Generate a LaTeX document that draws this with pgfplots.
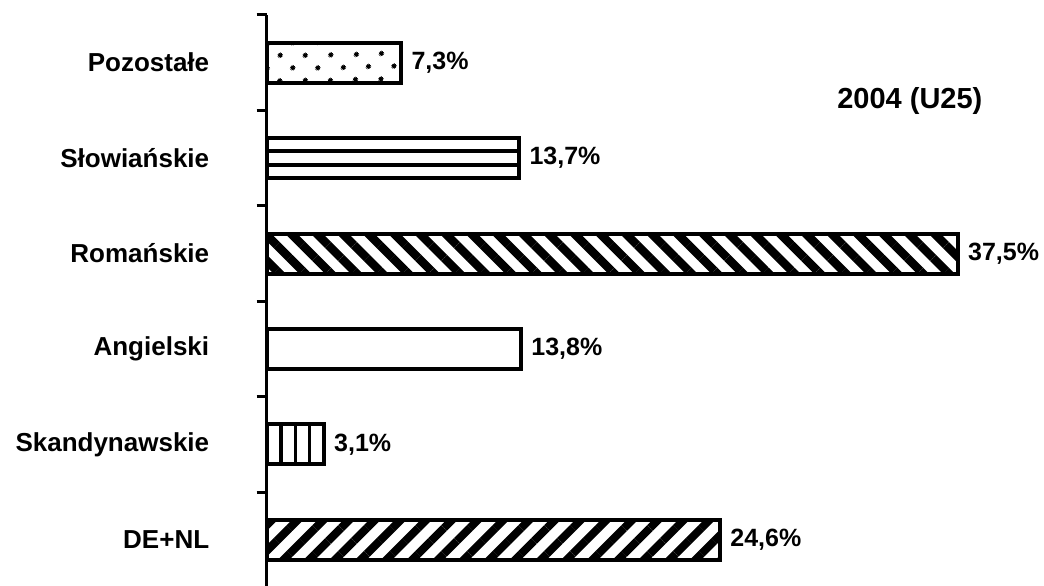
\documentclass[border=0pt]{standalone}
\usepackage{fontspec}
\setmainfont{Liberation Sans}
\usepackage{pgfplots}
\pgfplotsset{compat=1.18}
\usetikzlibrary{patterns.meta}
\begin{document}
\begin{tikzpicture}
\useasboundingbox (0,0) rectangle (1044pt,586pt);
\begin{axis}[
 at={(266.7pt,-1.5pt)}, anchor=south west,
 scale only axis, width=737.2pt, height=572.5pt,
 xmin=0, xmax=40, ymin=-0.5, ymax=5.5,
 axis x line=none, axis y line=left,
 y axis line style={-, line width=3pt},
 xbar, bar width=40pt, bar shift=0pt,
 ytick={0,...,5},
 yticklabels={DE+NL\hspace{11pt},Skandynawskie\hspace{-3pt},Angielski\hspace{3pt},Romańskie,Słowiańskie,Pozostałe\hspace{-7pt}},
 major tick length=0pt,
 minor ytick={-0.5,0.5,...,5.5},
 minor tick length=10pt,
 tick align=outside,
 tick style={black, line width=3pt},
 yticklabel style={font=\fontsize{26}{30}\selectfont\bfseries, anchor=east, xshift=-54pt},
 clip=false,
 point meta=explicit symbolic,
 every node near coord/.append style={font=\fontsize{25}{30}\selectfont\bfseries, anchor=west, xshift=5pt},
]
\addplot[draw=black, line width=4pt, nodes near coords, pattern={Dots[angle=45,distance=17.9pt,radius=2.6pt]}] coordinates {(7.3,5) [7,3\%]};
\addplot[draw=black, line width=4pt, fill=white, bar width=13.333pt, bar shift=13.333pt] coordinates {(13.7,4)};
\addplot[draw=black, line width=4pt, fill=white, bar width=13.333pt, bar shift=-13.333pt] coordinates {(13.7,4)};
\addplot[draw=black, line width=4pt, fill=white, bar width=13.333pt, bar shift=0pt, nodes near coords] coordinates {(13.7,4) [13,7\%]};
\addplot[draw=black, line width=4pt, nodes near coords, pattern={Lines[angle=-45,distance=18.2pt,line width=8.5pt]}] coordinates {(37.5,3) [37,5\%]};
\addplot[draw=black, line width=4pt, nodes near coords, fill=white] coordinates {(13.8,2) [13,8\%]};
\addplot[draw=black, line width=4pt, nodes near coords, pattern={Lines[angle=90,distance=14.33pt,xshift=8.76pt,line width=3.5pt]}] coordinates {(3.1,1) [3,1\%]};
\addplot[draw=black, line width=4pt, nodes near coords, pattern={Lines[angle=45,distance=18.2pt,line width=8pt]}] coordinates {(24.6,0) [24,6\%]};
\node[font=\fontsize{29}{33}\selectfont\bfseries, anchor=base] at (axis cs:34.9,4.515) {2004 (U25)};
\end{axis}
\end{tikzpicture}
\end{document}
